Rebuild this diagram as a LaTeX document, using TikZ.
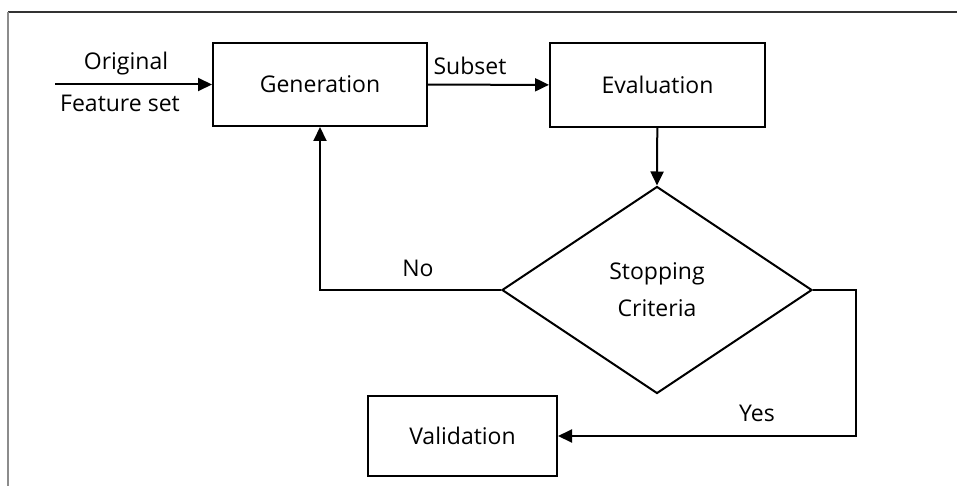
\documentclass[tikz,border=0pt]{standalone}
\usepackage{fontspec}
\setmainfont{Open Sans}
\usetikzlibrary{arrows.meta,shapes.geometric}
\begin{document}
\begin{tikzpicture}[x=1pt,y=-1pt,
  every node/.style={font=\fontsize{23}{27}\selectfont},
  stepbox/.style={draw, line width=2pt, inner sep=0pt, align=center},
  decision/.style={draw, line width=2pt, diamond, inner sep=0pt, align=center,
    minimum width=310pt, minimum height=207pt},
  flow/.style={line width=2pt, -{Triangle[length=14pt,width=13pt]}},
  lbl/.style={inner sep=0pt}]
\useasboundingbox (0,0) rectangle (957,486);
% page frame: top and left rules only
\draw[line width=1.8pt, black!80] (957,12) -- (8,12);
\draw[line width=1.3pt, black!45] (8,12) -- (8,486);

% process steps
\node[stepbox, minimum width=214pt, minimum height=83pt] (gen) at (320,84.5) {Generation};
\node[stepbox, minimum width=215pt, minimum height=84pt] (eval) at (657.5,85) {Evaluation};
\node[decision] (stop) at (657,290) {Stopping\\[10pt]Criteria};
\node[stepbox, minimum width=189pt, minimum height=80pt] (val) at (462.5,436) {Validation};

\coordinate (src) at (55,84.5);
\coordinate (turn) at (856,290);

% connectors
\draw[flow] (src) -- (gen.west);
\draw[flow] (gen) -- (eval);
\draw[flow] (eval) -- (stop.north);
\draw[flow] (stop.west) -| (gen.south);
\draw[flow] (stop.east) -- (turn) |- (val.east);

% labels
\node[lbl] (lorig) at (126,64) {Original};
\node[lbl] (lfeat) at (120,103) {Feature set};
\node[lbl] (lsub) at (470,66) {Subset};
\node[lbl] (lno) at (418,268) {No};
\node[lbl] (lyes) at (757,413) {Yes};
\end{tikzpicture}
\end{document}
